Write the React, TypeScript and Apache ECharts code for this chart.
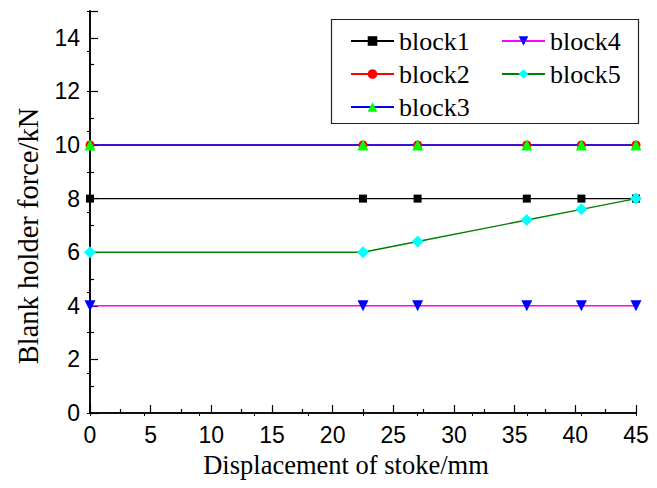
import React, { useEffect, useRef } from "react";
import * as echarts from "echarts";

const xValues = [0, 22.5, 27, 36, 40.5, 45];
const block1 = [8, 8, 8, 8, 8, 8];
const block2 = [10, 10, 10, 10, 10, 10];
const block3 = [10, 10, 10, 10, 10, 10];
const block4 = [4, 4, 4, 4, 4, 4];
const block5 = [6, 6, 6.4, 7.2, 7.6, 8];
const legendCol1 = ["block1", "block2", "block3"];
const legendCol2 = ["block4", "block5"];
const xTitle = "Displacement of stoke/mm";
const yTitle = "Blank holder force/kN";

const SANS = "Liberation Sans, Arial, sans-serif";
const SERIF = "Liberation Serif, Times New Roman, serif";

const pairs = (ys: number[]) => xValues.map((x, i) => [x, ys[i]]);

export default function App() {
  const ref = useRef<HTMLDivElement>(null);
  useEffect(() => {
    if (!ref.current) return;
    const chart = echarts.init(ref.current, null, { renderer: "svg" });
    const mkSeries = (
      name: string,
      data: number[],
      line: string,
      marker: string,
      symbol: string,
      size: number,
      rotate = 0
    ) => ({
      name,
      type: "line",
      data: pairs(data),
      symbol,
      symbolSize: size,
      symbolRotate: rotate,
      lineStyle: { color: line, width: 1.4 },
      itemStyle: { color: marker },
      clip: true,
    });
    const legendCommon = {
      orient: "vertical",
      top: 28,
      itemWidth: 43,
      itemHeight: 12,
      itemGap: 7,
      padding: 0,
      textStyle: { fontFamily: SERIF, fontSize: 26, lineHeight: 26, color: "#000" },
    };
    chart.setOption({
      animation: false,
      grid: { left: 90, right: 21, top: 11, bottom: 75, containLabel: false },
      xAxis: [
        {
          type: "value",
          position: "bottom",
          min: 0,
          max: 45,
          interval: 5,
          axisLine: { show: true, lineStyle: { color: "#000", width: 1.6 } },
          axisTick: { show: true, inside: true, length: 8, lineStyle: { color: "#000", width: 1.2 } },
          minorTick: { show: true, splitNumber: 2, length: 4, lineStyle: { color: "#000", width: 1.2 } },
          axisLabel: { fontFamily: SANS, fontSize: 23, color: "#000", margin: 10 },
          splitLine: { show: false },
        },
        {
          type: "value",
          position: "top",
          min: 0,
          max: 45,
          interval: 4.5,
          axisLine: { show: true, lineStyle: { color: "#000", width: 1.6 } },
          axisTick: { show: true, inside: true, length: 3, lineStyle: { color: "#000", width: 1 } },
          axisLabel: { show: false },
          splitLine: { show: false },
        },
      ],
      yAxis: [
        {
          type: "value",
          position: "left",
          min: 0,
          max: 15,
          interval: 2,
          axisLine: { show: true, lineStyle: { color: "#000", width: 1.6 } },
          axisTick: { show: true, inside: true, length: 8, lineStyle: { color: "#000", width: 1.2 } },
          minorTick: { show: true, splitNumber: 2, length: 4, lineStyle: { color: "#000", width: 1.2 } },
          axisLabel: { fontFamily: SANS, fontSize: 23, color: "#000", margin: 10, showMaxLabel: false },
          splitLine: { show: false },
        },
        {
          type: "value",
          position: "right",
          min: 0,
          max: 15,
          interval: 1.5,
          axisLine: { show: true, lineStyle: { color: "#000", width: 1.6 } },
          axisTick: { show: true, inside: true, length: 3, lineStyle: { color: "#000", width: 1 } },
          axisLabel: { show: false },
          splitLine: { show: false },
        },
      ],
      legend: [
        { ...legendCommon, left: 350, data: legendCol1 },
        { ...legendCommon, left: 501, data: legendCol2 },
      ],
      graphic: [
        {
          type: "rect",
          left: 329,
          top: 17,
          shape: { x: 0, y: 0, width: 307, height: 104 },
          style: { fill: "none", stroke: "#222", lineWidth: 1.2 },
          z: 10,
        },
        {
          type: "text",
          x: 346,
          y: 465,
          style: {
            text: xTitle,
            fontFamily: SERIF,
            fontSize: 26.5,
            fill: "#000",
            align: "center",
            verticalAlign: "middle",
          },
        },
        {
          type: "text",
          x: 28,
          y: 236,
          rotation: Math.PI / 2,
          style: {
            text: yTitle,
            fontFamily: SERIF,
            fontSize: 28.5,
            fill: "#000",
            align: "center",
            verticalAlign: "middle",
          },
        },
      ],
      series: [
        mkSeries("block1", block1, "#000000", "#000000", "rect", 8),
        mkSeries("block2", block2, "#ff0000", "#ff0000", "circle", 9),
        mkSeries("block3", block3, "#0000ff", "#00ff00", "triangle", 11),
        mkSeries("block4", block4, "#ff00ff", "#0000ff", "triangle", 11, 180),
        mkSeries("block5", block5, "#008000", "#00ffff", "diamond", 12),
      ],
    });
    return () => chart.dispose();
  }, []);
  return (
    <div
      ref={ref}
      style={{ position: "fixed", left: 0, top: 0, width: 657, height: 488, background: "#fff" }}
    />
  );
}
